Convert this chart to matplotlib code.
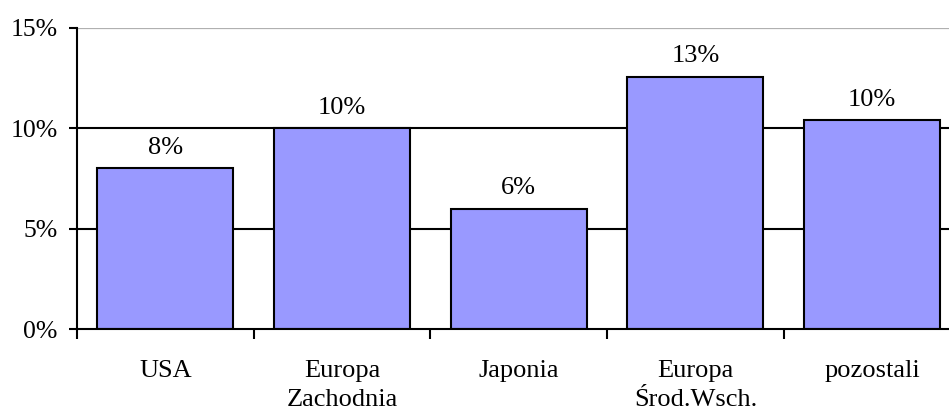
import matplotlib
matplotlib.use("Agg")
import matplotlib.pyplot as plt
import numpy as np

categories = ["USA", "Europa\nZachodnia", "Japonia", "Europa\nŚrod.Wsch.", "pozostali"]
values = [0.080, 0.100, 0.060, 0.1255, 0.104]
y_ticks = [0.0, 0.05, 0.10, 0.15]
y_tick_labels = ["0%", "5%", "10%", "15%"]

plt.rcParams["font.family"] = ["Liberation Serif", "DejaVu Serif"]
FS = 19

fig = plt.figure(figsize=(9.49, 4.12), dpi=100)
W, H = 949, 412
left_px, right_px, top_px, bottom_px = 77, 960.5, 28, 329
ax = fig.add_axes([left_px / W, 1 - bottom_px / H,
                   (right_px - left_px) / W, (bottom_px - top_px) / H])

x = np.arange(len(categories))
ax.set_xlim(-0.5, len(categories) - 0.5)
ax.set_ylim(0, 0.15)

# horizontal gridlines
for t in y_ticks[1:-1]:
    ax.axhline(t, color="black", lw=1.5, zorder=1)
ax.axhline(y_ticks[-1], color="#b0b0b0", lw=0.9, zorder=1)

bars = ax.bar(x, values, width=0.77, color="#9999ff", edgecolor="black",
              linewidth=1.5, zorder=2)
ax.bar_label(bars, labels=[f"{round(v * 100 + 1e-9):.0f}%" for v in values],
             padding=7, fontsize=FS)

for s in ["top", "right"]:
    ax.spines[s].set_visible(False)
for s in ["left", "bottom"]:
    ax.spines[s].set_linewidth(1.5)
    ax.spines[s].set_zorder(3)

ax.set_yticks(y_ticks)
ax.set_yticklabels(y_tick_labels, fontsize=18.5)
ax.tick_params(axis="y", direction="out", length=6, width=1.5, pad=8)

# category boundaries as major ticks, names on minor ticks at centres
ax.set_xticks(np.arange(len(categories) + 1) - 0.5)
ax.set_xticklabels([])
ax.tick_params(axis="x", which="major", direction="out", length=7, width=1.5)
ax.set_xticks(x, minor=True)
ax.set_xticklabels(categories, minor=True, fontsize=FS, linespacing=1.45)
ax.tick_params(axis="x", which="minor", length=0, pad=22)

fig.savefig("out.png", dpi=100)
